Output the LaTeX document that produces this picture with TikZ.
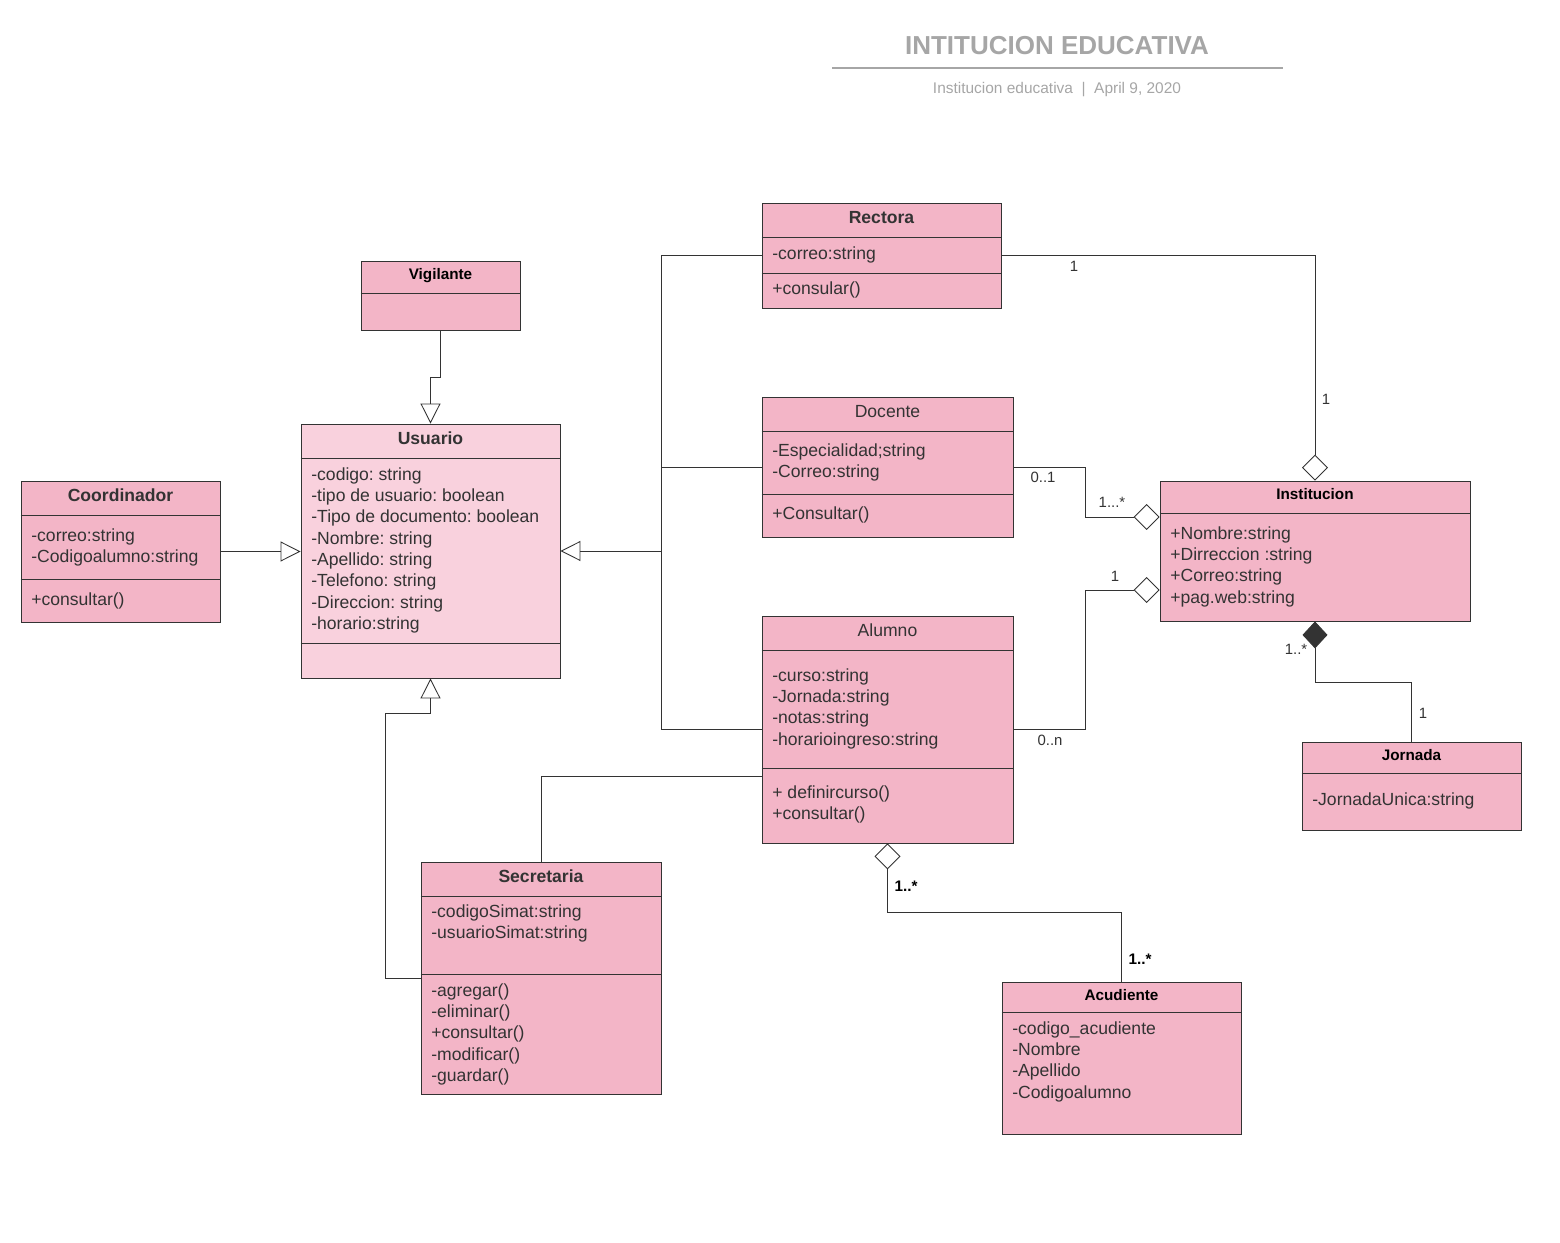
\documentclass[tikz,border=0pt]{standalone}
\usepackage{fontspec}
\setmainfont{Liberation Sans}
\usepackage{xcolor}
\usepackage{tikz}
\usetikzlibrary{positioning,fit,arrows.meta}
\frenchspacing
\definecolor{boxpink}{RGB}{243,181,199}
\definecolor{lightpink}{RGB}{249,209,221}
\definecolor{linegray}{RGB}{51,51,51}
\definecolor{titlegray}{RGB}{166,166,166}
\tikzset{class box/.style={draw=linegray,fill=boxpink,inner sep=0pt,line width=0.5pt},
	class title/.style={inner sep=0pt,text height=7.2pt,text depth=0pt,font=\fontsize{10}{12}\selectfont\bfseries,text=linegray},
	plain title/.style={class title,font=\fontsize{10}{12}\selectfont},
	small title/.style={inner sep=0pt,text height=6.3pt,text depth=0pt,font=\fontsize{8.7}{10}\selectfont\bfseries,text=black},
	member/.style={anchor=west,inner sep=0pt,text height=7.2pt,text depth=0pt,font=\fontsize{10}{12}\selectfont,text=linegray},
	mult/.style={inner sep=0pt,text height=6.1pt,text depth=0pt,font=\fontsize{8.5}{10}\selectfont,text=linegray},
	bold mult/.style={mult,font=\fontsize{8.7}{10}\selectfont\bfseries,text=black},
	link/.style={draw=linegray,line width=0.5pt},
	gen line/.style={link,-{Triangle[open,length=0.4cm,width=0.4cm]}},
	agg line/.style={link,{Diamond[open,length=0.52cm,width=0.52cm]}-},
	comp line/.style={link,{Diamond[fill=linegray,length=0.54cm,width=0.5cm]}-},}

\begin{document}
\begin{tikzpicture}[x=0.02cm,y=-0.02cm]
	\useasboundingbox (0,0) rectangle (1560,1243);

	% heading
	\node[inner sep=0pt,text height=10.6pt,text depth=0pt,font=\fontsize{14.8}{16}\selectfont\bfseries,text=titlegray] (title) at (1057,45) {INTITUCION EDUCATIVA};
	\draw[titlegray,line width=1.2pt] (832,68) -- (1283,68);
	\node[inner sep=0pt,text height=6.3pt,text depth=0pt,font=\fontsize{8.8}{10}\selectfont,text=titlegray] (subtitle) at (1057,88) {Institucion educativa \ | \ April 9, 2020};

	% classes
	\node[class box,fit={(361,261) (520,330)}] (vigilante) {};
	\node[class box,fill=lightpink,fit={(301,424) (560,678)}] (usuario) {};
	\node[class box,fit={(21,481) (220,622)}] (coordinador) {};
	\node[class box,fit={(762,203) (1001,308)}] (rectora) {};
	\node[class box,fit={(762,397) (1013,537)}] (docente) {};
	\node[class box,fit={(762,616) (1013,843)}] (alumno) {};
	\node[class box,fit={(1160,481) (1470,621)}] (institucion) {};
	\node[class box,fit={(1302,742) (1521,830)}] (jornada) {};
	\node[class box,fit={(421,862) (661,1094)}] (secretaria) {};
	\node[class box,fit={(1002,982) (1241,1134)}] (acudiente) {};

	% compartments
	\draw[link] (vigilante.west |- 0,293) -- (vigilante.east |- 0,293);
	\draw[link] (usuario.west |- 0,458) -- (usuario.east |- 0,458);
	\draw[link] (usuario.west |- 0,643) -- (usuario.east |- 0,643);
	\draw[link] (coordinador.west |- 0,515) -- (coordinador.east |- 0,515);
	\draw[link] (coordinador.west |- 0,579) -- (coordinador.east |- 0,579);
	\draw[link] (rectora.west |- 0,237) -- (rectora.east |- 0,237);
	\draw[link] (rectora.west |- 0,273) -- (rectora.east |- 0,273);
	\draw[link] (docente.west |- 0,431) -- (docente.east |- 0,431);
	\draw[link] (docente.west |- 0,494) -- (docente.east |- 0,494);
	\draw[link] (alumno.west |- 0,650) -- (alumno.east |- 0,650);
	\draw[link] (alumno.west |- 0,768) -- (alumno.east |- 0,768);
	\draw[link] (institucion.west |- 0,513) -- (institucion.east |- 0,513);
	\draw[link] (jornada.west |- 0,773) -- (jornada.east |- 0,773);
	\draw[link] (secretaria.west |- 0,896) -- (secretaria.east |- 0,896);
	\draw[link] (secretaria.west |- 0,974) -- (secretaria.east |- 0,974);
	\draw[link] (acudiente.west |- 0,1012) -- (acudiente.east |- 0,1012);

	% names
	\node[small title] (vigilante-n) at (440.5,274) {Vigilante};
	\node[class title] (usuario-n) at (430.5,438) {Usuario};
	\node[class title] (coordinador-n) at (120.5,495) {Coordinador};
	\node[class title] (rectora-n) at (881.5,217) {Rectora};
	\node[plain title] (docente-n) at (887.5,411) {Docente};
	\node[plain title] (alumno-n) at (887.5,630) {Alumno};
	\node[small title] (institucion-n) at (1315,494) {Institucion};
	\node[small title] (jornada-n) at (1411.5,755) {Jornada};
	\node[class title] (secretaria-n) at (541,876) {Secretaria};
	\node[small title] (acudiente-n) at (1121.5,995) {Acudiente};

	% members
	\foreach \t [count=\i from 0] in {-codigo: string,-tipo de usuario: boolean,-Tipo de documento: boolean,-Nombre: string,-Apellido: string,-Telefono: string,-Direccion: string,-horario:string}
		\node[member] (usuario-a\i) at (311,474+21.3*\i) {\t};
	\node[member] (coordinador-a0) at (31,535) {-correo:string};
	\node[member] (coordinador-a1) at (31,556) {-Codigoalumno:string};
	\node[member] (coordinador-m0) at (31,599) {+consultar()};
	\node[member] (rectora-a0) at (772,253) {-correo:string};
	\node[member] (rectora-m0) at (772,288) {+consular()};
	\node[member] (docente-a0) at (772,450) {-Especialidad;string};
	\node[member] (docente-a1) at (772,471) {-Correo:string};
	\node[member] (docente-m0) at (772,513) {+Consultar()};
	\foreach \t [count=\i from 0] in {-curso:string,-Jornada:string,-notas:string,-horarioingreso:string}
		\node[member] (alumno-a\i) at (772,675+21.3*\i) {\t};
	\node[member] (alumno-m0) at (772,792) {+ definircurso()};
	\node[member] (alumno-m1) at (772,813) {+consultar()};
	\foreach \t [count=\i from 0] in {+Nombre:string,+Dirreccion :string,+Correo:string,+pag.web:string}
		\node[member] (institucion-a\i) at (1170,533+21.3*\i) {\t};
	\node[member] (jornada-a0) at (1312,799) {-JornadaUnica:string};
	\node[member] (secretaria-a0) at (431,911) {-codigoSimat:string};
	\node[member] (secretaria-a1) at (431,932) {-usuarioSimat:string};
	\foreach \t [count=\i from 0] in {-agregar(),-eliminar(),+consultar(),-modificar(),-guardar()}
		\node[member] (secretaria-m\i) at (431,990+21.3*\i) {\t};
	\foreach \t [count=\i from 0] in {-codigo\_acudiente,-Nombre,-Apellido,-Codigoalumno}
		\node[member] (acudiente-a\i) at (1012,1028+21.3*\i) {\t};

	% inheritance
	\coordinate (bus) at (661,551);
	\draw[gen line] (vigilante.south) -- ++(0,47) -| (usuario.north);
	\draw[gen line] (coordinador.east) -- (coordinador.east -| usuario.west);
	\draw[gen line] (bus) -- (bus -| usuario.east);
	\draw[link] (rectora.west) -| (bus);
	\draw[link] (docente.west) -| (bus);
	\draw[link] (alumno.west) -| (bus);
	\draw[gen line] (secretaria.west |- 0,978) -- ++(-35,0) |- ([yshift=-0.7cm]usuario.south) -- (usuario.south);
	\draw[link] (secretaria.north) |- (alumno.west |- 0,776);

	% aggregation and composition
	\draw[agg line] (institucion.north) |- (rectora.east);
	\draw[agg line] (institucion.west |- 0,517) -- ++(-74,0) |- (docente.east);
	\draw[agg line] (institucion.west |- 0,590) -- ++(-74,0) |- (alumno.east);
	\draw[comp line] (institucion.south) -- ++(0,61) -| (jornada.north);
	\draw[agg line] (alumno.south) -- ++(0,69) -| (acudiente.north);

	% multiplicities
	\node[mult] (m-rect) at (1074,266) {1};
	\node[mult] (m-inst1) at (1326,399) {1};
	\node[mult] (m-doc) at (1043,477) {0..1};
	\node[mult] (m-inst2) at (1112,502) {1...*};
	\node[mult] (m-inst3) at (1115,576) {1};
	\node[mult] (m-alu) at (1050,740) {0..n};
	\node[mult] (m-inst4) at (1296,649) {1..*};
	\node[mult] (m-jor) at (1423,713) {1};
	\node[bold mult] (m-alu2) at (906,886) {1..*};
	\node[bold mult] (m-acu) at (1140,959) {1..*};
\end{tikzpicture}
\end{document}
